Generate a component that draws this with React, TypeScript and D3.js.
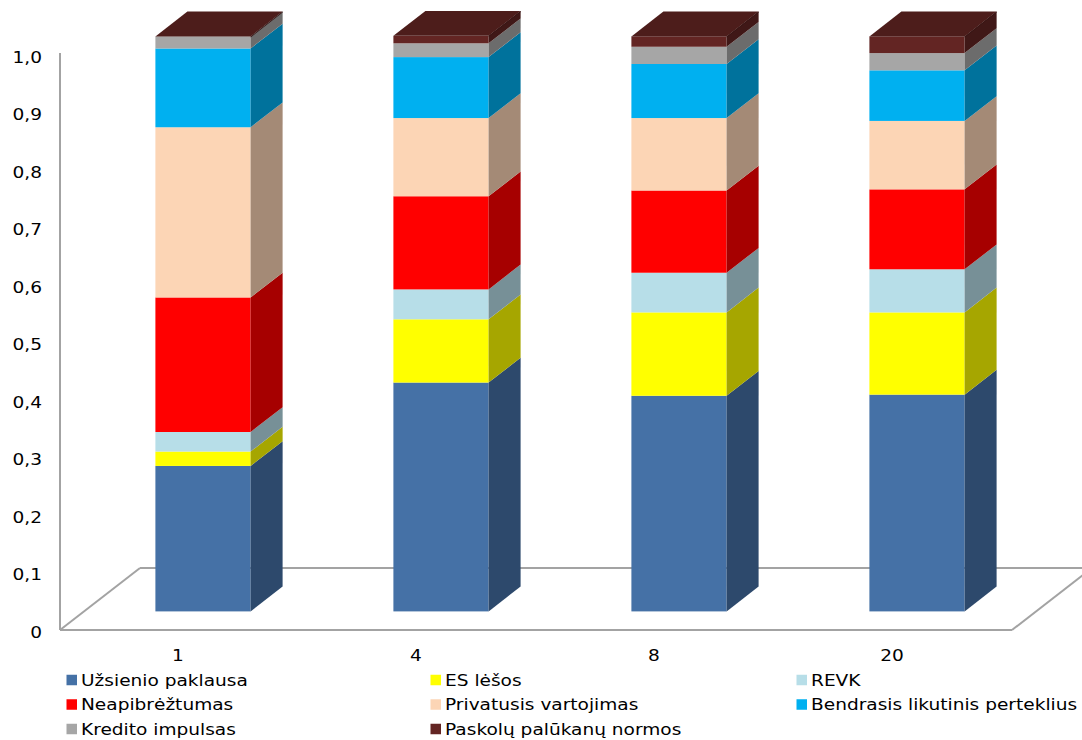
import React from "react";
import * as d3 from "d3";

// Horizon categories (quarters)
const categories = ["1", "4", "8", "20"];

// Shock contributions to the variance, per horizon
const uzsienioPaklausa = [0.253, 0.398, 0.375, 0.377];
const esLesos = [0.025, 0.11, 0.145, 0.143];
const revk = [0.034, 0.052, 0.069, 0.075];
const neapibreztumas = [0.234, 0.162, 0.143, 0.139];
const privatusisVartojimas = [0.296, 0.136, 0.126, 0.119];
const bendrasisPerteklius = [0.137, 0.106, 0.094, 0.088];
const kreditoImpulsas = [0.021, 0.024, 0.03, 0.03];
const paskoluPalukanos = [0.0, 0.013, 0.018, 0.029];

const seriesNames = [
  "Užsienio paklausa",
  "ES lėšos",
  "REVK",
  "Neapibrėžtumas",
  "Privatusis vartojimas",
  "Bendrasis likutinis perteklius",
  "Kredito impulsas",
  "Paskolų palūkanų normos",
];
const seriesValues = [
  uzsienioPaklausa,
  esLesos,
  revk,
  neapibreztumas,
  privatusisVartojimas,
  bendrasisPerteklius,
  kreditoImpulsas,
  paskoluPalukanos,
];
const seriesColors = [
  "#4571A6",
  "#FFFF00",
  "#B7DEE8",
  "#FF0000",
  "#FCD5B5",
  "#00B0F0",
  "#A6A6A6",
  "#632523",
];

const tickValues = [0, 0.1, 0.2, 0.3, 0.4, 0.5, 0.6, 0.7, 0.8, 0.9, 1.0];
const tickLabels = ["0", "0,1", "0,2", "0,3", "0,4", "0,5", "0,6", "0,7", "0,8", "0,9", "1,0"];

const W = 1082;
const H = 740;
const FONT = "'DejaVu Sans', Verdana, sans-serif";
const FS = 16.5;
const SX = 1.125;

// floor geometry (oblique projection)
const left = 60;
const right = 1012;
const bottom = 630;
const depthDx = 80;
const depthDy = -62;
const barFront = 0.3; // bar front face position within floor depth
const barDepth = 0.4;

function shade(c: string, k: number) {
  const r = d3.rgb(c);
  return d3.rgb(r.r * k, r.g * k, r.b * k).formatHex();
}

function Label(props: { x: number; y: number; anchor?: string; children: React.ReactNode }) {
  return (
    <text
      transform={`translate(${props.x},${props.y}) scale(${SX},1)`}
      textAnchor={props.anchor || "start"}
      dominantBaseline="central"
      fontFamily={FONT}
      fontSize={FS}
      fill="#000"
    >
      {props.children}
    </text>
  );
}

export default function App() {
  const x = d3.scaleBand().domain(categories).range([left, right]).paddingInner(0).paddingOuter(0);
  const y = d3.scaleLinear().domain([0, 1]).range([bottom, 55]);
  const unit = bottom - y(1);

  const rows = categories.map((c, i) => {
    const o: Record<string, number | string> = { cat: c };
    seriesNames.forEach((s, j) => (o[s] = seriesValues[j][i]));
    return o;
  });
  const stacked = d3.stack<any>().keys(seriesNames)(rows as any);

  const bw = x.bandwidth() * 0.4;
  const fdx = depthDx * barFront;
  const fdy = depthDy * barFront;
  const ddx = depthDx * barDepth;
  const ddy = depthDy * barDepth;
  const base = bottom + fdy;

  const bars = categories.map((c, i) => {
    const x0 = (x(c) as number) + (x.bandwidth() - bw) / 2 + fdx;
    const x1 = x0 + bw;
    const segs = stacked.map((layer, j) => {
      const v0 = layer[i][0];
      const v1 = layer[i][1];
      const Y0 = base - v0 * unit;
      const Y1 = base - v1 * unit;
      const col = seriesColors[j];
      return (
        <g key={j}>
          <rect x={x0} y={Y1} width={bw} height={Math.max(0, Y0 - Y1)} fill={col} />
          <polygon
            points={`${x1},${Y1} ${x1 + ddx},${Y1 + ddy} ${x1 + ddx},${Y0 + ddy} ${x1},${Y0}`}
            fill={shade(col, 0.65)}
          />
        </g>
      );
    });
    const topLayer = stacked[stacked.length - 1];
    const YT = base - topLayer[i][1] * unit;
    const topCol = seriesColors[seriesColors.length - 1];
    return (
      <g key={c}>
        {segs}
        <polygon
          points={`${x0},${YT} ${x0 + ddx},${YT + ddy} ${x1 + ddx},${YT + ddy} ${x1},${YT}`}
          fill={shade(topCol, 0.78)}
        />
        <polygon
          points={`${x1},${YT} ${x1 + ddx},${YT + ddy} ${x1 + ddx},${YT + ddy + 1} ${x1},${YT + 1}`}
          fill={shade(topCol, 0.55)}
        />
      </g>
    );
  });

  const legendCols = [66.5, 430.5, 796.5];
  const legendRows = [680, 704.5, 729];

  return (
    <div style={{ position: "absolute", left: 0, top: 0 }}>
      <svg width={W} height={H} style={{ display: "block", background: "#fff" }}>
        {/* floor outline */}
        <g fill="none" stroke="#A3A3A3" strokeWidth={2}>
          <line x1={left} y1={bottom} x2={right} y2={bottom} />
          <line x1={left} y1={bottom} x2={left + depthDx} y2={bottom + depthDy} />
          <line x1={left + depthDx} y1={bottom + depthDy} x2={right + depthDx} y2={bottom + depthDy} />
          <line x1={right} y1={bottom} x2={right + depthDx} y2={bottom + depthDy} />
          {/* value axis */}
          <line x1={left} y1={y(1) - 2} x2={left} y2={bottom} />
        </g>

        {bars}

        {tickValues.map((v, i) => (
          <Label key={i} x={42} y={y(v) + 2} anchor="end">
            {tickLabels[i]}
          </Label>
        ))}

        {categories.map((c) => (
          <Label key={c} x={(x(c) as number) + x.bandwidth() / 2 - 1} y={655} anchor="middle">
            {c}
          </Label>
        ))}

        {seriesNames.map((s, j) => {
          const cx = legendCols[j % 3];
          const cy = legendRows[Math.floor(j / 3)];
          return (
            <g key={s}>
              <rect x={cx} y={cy - 5.25} width={10.5} height={10.5} fill={seriesColors[j]} />
              <Label x={cx + 14.5} y={cy}>
                {s}
              </Label>
            </g>
          );
        })}
      </svg>
    </div>
  );
}
